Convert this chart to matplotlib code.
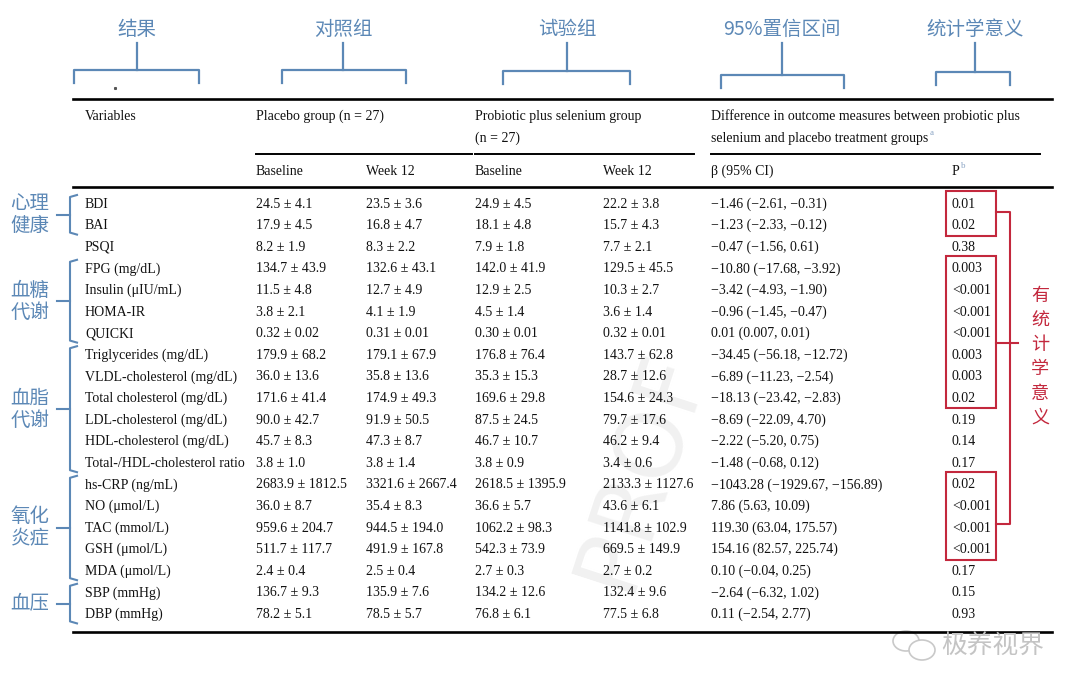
import matplotlib
matplotlib.use("Agg")
import matplotlib.pyplot as plt
from matplotlib.patches import Rectangle, Ellipse

# ---- table data ----
variables = ["BDI", "BAI", "PSQI", "FPG (mg/dL)", "Insulin (μIU/mL)", "HOMA-IR", "QUICKI",
             "Triglycerides (mg/dL)", "VLDL-cholesterol (mg/dL)", "Total cholesterol (mg/dL)",
             "LDL-cholesterol (mg/dL)", "HDL-cholesterol (mg/dL)", "Total-/HDL-cholesterol ratio",
             "hs-CRP (ng/mL)", "NO (μmol/L)", "TAC (mmol/L)", "GSH (μmol/L)", "MDA (μmol/L)",
             "SBP (mmHg)", "DBP (mmHg)"]
placebo_base = ["24.5 ± 4.1", "17.9 ± 4.5", "8.2 ± 1.9", "134.7 ± 43.9", "11.5 ± 4.8", "3.8 ± 2.1",
                "0.32 ± 0.02", "179.9 ± 68.2", "36.0 ± 13.6", "171.6 ± 41.4", "90.0 ± 42.7",
                "45.7 ± 8.3", "3.8 ± 1.0", "2683.9 ± 1812.5", "36.0 ± 8.7", "959.6 ± 204.7",
                "511.7 ± 117.7", "2.4 ± 0.4", "136.7 ± 9.3", "78.2 ± 5.1"]
placebo_w12 = ["23.5 ± 3.6", "16.8 ± 4.7", "8.3 ± 2.2", "132.6 ± 43.1", "12.7 ± 4.9", "4.1 ± 1.9",
               "0.31 ± 0.01", "179.1 ± 67.9", "35.8 ± 13.6", "174.9 ± 49.3", "91.9 ± 50.5",
               "47.3 ± 8.7", "3.8 ± 1.4", "3321.6 ± 2667.4", "35.4 ± 8.3", "944.5 ± 194.0",
               "491.9 ± 167.8", "2.5 ± 0.4", "135.9 ± 7.6", "78.5 ± 5.7"]
probiotic_base = ["24.9 ± 4.5", "18.1 ± 4.8", "7.9 ± 1.8", "142.0 ± 41.9", "12.9 ± 2.5", "4.5 ± 1.4",
                  "0.30 ± 0.01", "176.8 ± 76.4", "35.3 ± 15.3", "169.6 ± 29.8", "87.5 ± 24.5",
                  "46.7 ± 10.7", "3.8 ± 0.9", "2618.5 ± 1395.9", "36.6 ± 5.7", "1062.2 ± 98.3",
                  "542.3 ± 73.9", "2.7 ± 0.3", "134.2 ± 12.6", "76.8 ± 6.1"]
probiotic_w12 = ["22.2 ± 3.8", "15.7 ± 4.3", "7.7 ± 2.1", "129.5 ± 45.5", "10.3 ± 2.7", "3.6 ± 1.4",
                 "0.32 ± 0.01", "143.7 ± 62.8", "28.7 ± 12.6", "154.6 ± 24.3", "79.7 ± 17.6",
                 "46.2 ± 9.4", "3.4 ± 0.6", "2133.3 ± 1127.6", "43.6 ± 6.1", "1141.8 ± 102.9",
                 "669.5 ± 149.9", "2.7 ± 0.2", "132.4 ± 9.6", "77.5 ± 6.8"]
beta_ci = ["−1.46 (−2.61, −0.31)", "−1.23 (−2.33, −0.12)", "−0.47 (−1.56, 0.61)",
           "−10.80 (−17.68, −3.92)", "−3.42 (−4.93, −1.90)", "−0.96 (−1.45, −0.47)",
           "0.01 (0.007, 0.01)", "−34.45 (−56.18, −12.72)", "−6.89 (−11.23, −2.54)",
           "−18.13 (−23.42, −2.83)", "−8.69 (−22.09, 4.70)", "−2.22 (−5.20, 0.75)",
           "−1.48 (−0.68, 0.12)", "−1043.28 (−1929.67, −156.89)", "7.86 (5.63, 10.09)",
           "119.30 (63.04, 175.57)", "154.16 (82.57, 225.74)", "0.10 (−0.04, 0.25)",
           "−2.64 (−6.32, 1.02)", "0.11 (−2.54, 2.77)"]
p_values = ["0.01", "0.02", "0.38", "0.003", "<0.001", "<0.001", "<0.001", "0.003", "0.003",
            "0.02", "0.19", "0.14", "0.17", "0.02", "<0.001", "<0.001", "<0.001", "0.17",
            "0.15", "0.93"]

# annotation groups (label lines, first row, last row)
groups = [(["心理", "健康"], 0, 1), (["血糖", "代谢"], 3, 6), (["血脂", "代谢"], 7, 12),
          (["氧化", "炎症"], 13, 17), (["血压"], 18, 19)]
top_labels = ["结果", "对照组", "试验组", "95%置信区间", "统计学意义"]
sig_boxes = [(0, 1), (3, 9), (13, 16)]

BLUE = "#5c88b6"
RED = "#c3283d"
INK = "#111111"
SERIF = "Liberation Serif"
CJK = ["Noto Sans CJK SC", "DejaVu Sans"]

fig = plt.figure(figsize=(10.8, 6.91), dpi=100)
ax = fig.add_axes([0, 0, 1, 1])
ax.set_xlim(0, 1080)
ax.set_ylim(691, 0)
ax.axis("off")

row_y = [204 + 21.6 * i for i in range(len(variables))]
col_x = [85, 256, 366, 475, 603, 711, 952]

# faint watermark
ax.text(640, 470, "PROF", rotation=72, fontsize=66, color="#f1f1f1", family="DejaVu Sans",
        ha="center", va="center", zorder=0)

# rules
ax.plot([73, 1052], [99, 99], color="black", lw=1.9)
ax.plot([256, 472], [154, 154], color="black", lw=1.4)
ax.plot([475, 694], [154, 154], color="black", lw=1.4)
ax.plot([711, 1040], [154, 154], color="black", lw=1.4)
ax.plot([73, 1052], [187, 187], color="black", lw=1.9)
ax.plot([73, 1052], [632, 632], color="black", lw=1.9)

fs = 10
ax.text(col_x[0], 116, "Variables", fontsize=fs, family=SERIF, color=INK, va="center")
ax.text(col_x[1], 116, "Placebo group (n = 27)", fontsize=fs, family=SERIF, color=INK, va="center")
ax.text(col_x[3], 116, "Probiotic plus selenium group", fontsize=fs, family=SERIF, color=INK, va="center")
ax.text(col_x[3], 138, "(n = 27)", fontsize=fs, family=SERIF, color=INK, va="center")
ax.text(col_x[5], 116, "Difference in outcome measures between probiotic plus", fontsize=fs,
        family=SERIF, color=INK, va="center")
t_grp = ax.text(col_x[5], 138, "selenium and placebo treatment groups", fontsize=fs,
                family=SERIF, color=INK, va="center")
for c, lab in zip(col_x[1:5], ["Baseline", "Week 12", "Baseline", "Week 12"]):
    ax.text(c, 171, lab, fontsize=fs, family=SERIF, color=INK, va="center")
ax.text(col_x[5], 171, "β (95% CI)", fontsize=fs, family=SERIF, color=INK, va="center")
t_p = ax.text(col_x[6], 171, "P", fontsize=fs, family=SERIF, color=INK, va="center")

# superscripts placed after measured text
renderer = fig.canvas.get_renderer()
inv = ax.transData.inverted()
for t, s, y in [(t_grp, "a", 133), (t_p, "b", 166)]:
    bb = t.get_window_extent(renderer)
    x_end = inv.transform((bb.x1, bb.y0))[0]
    ax.text(x_end + 1, y, s, fontsize=6.5, family=SERIF, color="#8aa4c4", va="center")

# body
columns = [variables, placebo_base, placebo_w12, probiotic_base, probiotic_w12, beta_ci, p_values]
for c, values in zip(col_x, columns):
    for y, v in zip(row_y, values):
        ax.text(c, y, v, fontsize=fs, family=SERIF, color=INK, va="center")

# top annotations
top_brackets = [(74, 199, 137, 70), (282, 406, 343, 70), (503, 630, 567, 71),
                (721, 844, 782, 75), (936, 1010, 975, 72)]
for lab, (x0, x1, xm, yb) in zip(top_labels, top_brackets):
    ax.plot([x0, x0, x1, x1], [yb + 13, yb, yb, yb + 13], color=BLUE, lw=1.6)
    ax.plot([xm, xm], [yb, 43], color=BLUE, lw=1.6)
    ax.text(xm, 29, lab, fontsize=14, family=CJK, color=BLUE, ha="center", va="center")
ax.plot([115], [88], marker="s", ms=1.2, color="#555555")

# left group annotations
for lines, r0, r1 in groups:
    top = row_y[r0] - 9
    bot = row_y[r1] + 9
    mid = (top + bot) / 2
    ax.plot([77, 70, 70, 77], [top, top + 2, bot - 2, bot], color=BLUE, lw=1.5)
    ax.plot([57, 70], [mid, mid], color=BLUE, lw=1.5)
    n = len(lines)
    for k, s in enumerate(lines):
        ax.text(30, mid + (k - (n - 1) / 2) * 22, s, fontsize=14, family=CJK,
                color=BLUE, ha="center", va="center")

# significance boxes and connector
box_x0, box_x1 = 946, 996
for r0, r1 in sig_boxes:
    y0 = row_y[r0] - 13
    y1 = row_y[r1] + 10
    ax.add_patch(Rectangle((box_x0, y0), box_x1 - box_x0, y1 - y0, fill=False,
                           edgecolor=RED, lw=1.5))
conn_x = 1010
ax.plot([box_x1, conn_x, conn_x, box_x1], [212, 212, 524, 524], color=RED, lw=1.5)
ax.plot([box_x1, 1018], [343, 343], color=RED, lw=1.5)
for k, ch in enumerate("有统计学意义"):
    ax.text(1040, 296 + k * 24.4, ch, fontsize=13, family=CJK, color=RED,
            ha="center", va="center")

# wechat style watermark
ax.add_patch(Ellipse((906, 641), 26, 20, fill=False, edgecolor="#c9c9c9", lw=1.2))
ax.add_patch(Ellipse((922, 650), 26, 20, fill=True, facecolor="white",
                     edgecolor="#c9c9c9", lw=1.2))
ax.text(993, 646, "极养视界", fontsize=18.5, family=CJK, color="#c4c4c4",
        ha="center", va="center")

fig.savefig("out.png", dpi=100, facecolor="white")
